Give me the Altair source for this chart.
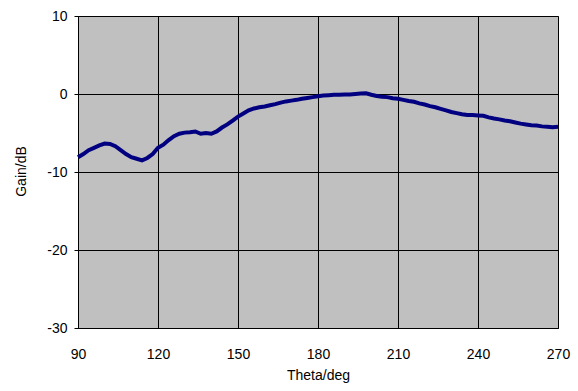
import altair as alt
import pandas as pd

theta = list(range(90, 272, 2))
gain = [
    -8.1, -7.7, -7.2, -6.9, -6.6, -6.35, -6.4, -6.7, -7.2, -7.7,
    -8.1, -8.3, -8.5, -8.2, -7.7, -6.9, -6.5, -5.9, -5.4, -5.1,
    -4.95, -4.9, -4.8, -5.1, -5.0, -5.1, -4.8, -4.3, -3.9, -3.4,
    -2.9, -2.5, -2.1, -1.85, -1.7, -1.6, -1.45, -1.3, -1.1, -0.95,
    -0.85, -0.75, -0.6, -0.5, -0.4, -0.3, -0.2, -0.15, -0.1, -0.1,
    -0.05, -0.05, 0.0, 0.05, 0.1, -0.1, -0.25, -0.35, -0.4, -0.55,
    -0.6, -0.75, -0.9, -1.0, -1.2, -1.35, -1.55, -1.7, -1.9, -2.1,
    -2.3, -2.45, -2.6, -2.7, -2.7, -2.75, -2.8, -3.0, -3.15, -3.25,
    -3.4, -3.5, -3.65, -3.8, -3.9, -4.0, -4.05, -4.15, -4.2, -4.25,
    -4.2,
]
x_ticks = [90, 120, 150, 180, 210, 240, 270]
y_ticks = [-30, -20, -10, 0, 10]

df = pd.DataFrame({"theta": theta, "gain": gain})
FONT = "Liberation Sans"

chart = (
    alt.Chart(df)
    .mark_line(color="#000080", strokeWidth=4, interpolate="linear")
    .encode(
        x=alt.X(
            "theta:Q",
            scale=alt.Scale(domain=[90, 270], nice=False, zero=False),
            axis=alt.Axis(
                values=x_ticks,
                title="Theta/deg",
                grid=True,
                gridColor="black",
                gridOpacity=1,
                gridWidth=1,
                domainColor="black",
                ticks=False,
                labelFlush=False,
                labelOverlap=False,
                labelPadding=19,
                labelExpr="toString(datum.value)",
                labelFont=FONT,
                labelFontSize=14,
                labelColor="black",
                titleFont=FONT,
                titleFontSize=14,
                titleFontWeight="normal",
                titleColor="black",
                titleBaseline="alphabetic",
                titleY=51,
            ),
        ),
        y=alt.Y(
            "gain:Q",
            scale=alt.Scale(domain=[-30, 10], nice=False, zero=False),
            axis=alt.Axis(
                values=y_ticks,
                title="Gain/dB",
                grid=True,
                gridColor="black",
                gridOpacity=1,
                gridWidth=1,
                domainColor="black",
                tickColor="black",
                tickSize=4,
                labelFlush=False,
                labelOverlap=False,
                labelPadding=7,
                labelExpr="toString(datum.value)",
                labelFont=FONT,
                labelFontSize=14,
                labelColor="black",
                titleFont=FONT,
                titleFontSize=14,
                titleFontWeight="normal",
                titleColor="black",
                titleAngle=270,
                titleAlign="center",
                titleBaseline="alphabetic",
                titleX=-53,
                titleY=155,
            ),
        ),
    )
    .properties(
        width=480,
        height=312,
        autosize=alt.AutoSizeParams(type="none"),
        padding={"left": 78, "top": 16, "right": 20, "bottom": 63},
        background="white",
    )
    .configure_view(fill="#C0C0C0", stroke="#808080", strokeWidth=1)
)

chart.save("out.html", embed_options={"renderer": "svg", "actions": False})
